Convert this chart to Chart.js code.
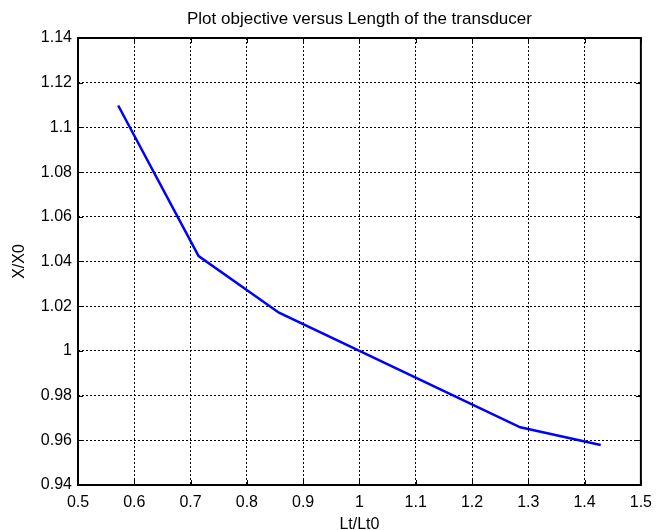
<!DOCTYPE html>
<html>
<head>
<meta charset="utf-8">
<script src="https://cdn.jsdelivr.net/npm/chart.js@4/dist/chart.umd.min.js"></script>
<style>
html,body{margin:0;padding:0;background:#fff;}
#wrap{width:660px;height:530px;}
</style>
</head>
<body>
<div id="wrap"><canvas id="c" width="660" height="530"></canvas></div>
<script>
const lengthRatio = [0.5714, 0.7143, 0.8571, 1.0000, 1.1429, 1.2857, 1.4286];
const objectiveRatio = [1.1098, 1.0424, 1.0171, 1.0000, 0.9829, 0.9658, 0.9579];
const xTicks = [0.5, 0.6, 0.7, 0.8, 0.9, 1, 1.1, 1.2, 1.3, 1.4, 1.5];
const yTicks = [0.94, 0.96, 0.98, 1, 1.02, 1.04, 1.06, 1.08, 1.1, 1.12, 1.14];
const titleText = 'Plot objective versus Length of the transducer';
const xLabel = 'Lt/Lt0';
const yLabel = 'X/X0';

const FONT = 'Liberation Sans, Arial, Helvetica, sans-serif';

const boxTicks = {
  id: 'boxTicks',
  afterDatasetsDraw(chart) {
    const {ctx, chartArea: a, scales} = chart;
    ctx.save();
    ctx.strokeStyle = '#000';
    ctx.lineWidth = 1;
    ctx.setLineDash([]);
    ctx.beginPath();
    const L = 5;
    scales.x.ticks.forEach(t => {
      const px = Math.round(scales.x.getPixelForValue(t.value)) + 0.5;
      ctx.moveTo(px, a.bottom); ctx.lineTo(px, a.bottom - L);
      ctx.moveTo(px, a.top); ctx.lineTo(px, a.top + L);
    });
    scales.y.ticks.forEach(t => {
      const py = Math.round(scales.y.getPixelForValue(t.value)) + 0.5;
      ctx.moveTo(a.left, py); ctx.lineTo(a.left + L, py);
      ctx.moveTo(a.right, py); ctx.lineTo(a.right - L, py);
    });
    ctx.stroke();
    ctx.lineWidth = 2;
    ctx.strokeRect(a.left, a.top, a.right - a.left, a.bottom - a.top);
    ctx.restore();
  }
};

new Chart(document.getElementById('c'), {
  type: 'line',
  data: {
    datasets: [{
      data: lengthRatio.map((x, i) => ({x: x, y: objectiveRatio[i]})),
      borderColor: '#0000ff',
      borderWidth: 2.5,
      pointRadius: 0,
      fill: false,
      tension: 0
    }]
  },
  plugins: [boxTicks],
  options: {
    responsive: false,
    animation: false,
    layout: {padding: {left: 0, right: 13, top: 0, bottom: 0}},
    plugins: {
      legend: {display: false},
      tooltip: {enabled: false},
      title: {
        display: true,
        text: titleText,
        fullSize: false,
        color: '#000',
        font: {family: FONT, size: 17, weight: 'normal', lineHeight: 1.2},
        padding: {top: 9.3, bottom: 8.3}
      }
    },
    scales: {
      x: {
        type: 'linear',
        min: 0.5, max: 1.5,
        afterBuildTicks: s => { s.ticks = xTicks.map(v => ({value: v})); },
        afterFit: s => { s.height = 45; },
        ticks: {
          color: '#000', padding: 8, maxRotation: 0,
          font: {family: FONT, size: 16},
          callback: v => String(Number(v.toFixed(2)))
        },
        grid: {color: '#000', lineWidth: 1, drawTicks: false},
        border: {display: false, dash: [2, 2]},
        title: {display: true, text: xLabel, color: '#000', font: {family: FONT, size: 16, lineHeight: 1.2}, padding: {top: 0, bottom: -4}}
      },
      y: {
        type: 'linear',
        min: 0.94, max: 1.14,
        afterBuildTicks: s => { s.ticks = yTicks.map(v => ({value: v})); },
        afterFit: s => { s.width = 78; },
        ticks: {
          color: '#000', padding: 6,
          font: {family: FONT, size: 16},
          callback: v => String(Number(v.toFixed(2)))
        },
        grid: {color: '#000', lineWidth: 1, drawTicks: false},
        border: {display: false, dash: [2, 2]},
        title: {display: true, text: yLabel, color: '#000', font: {family: FONT, size: 16, lineHeight: 1.2}, padding: {top: 10, bottom: 0}}
      }
    }
  }
});
</script>
</body>
</html>
